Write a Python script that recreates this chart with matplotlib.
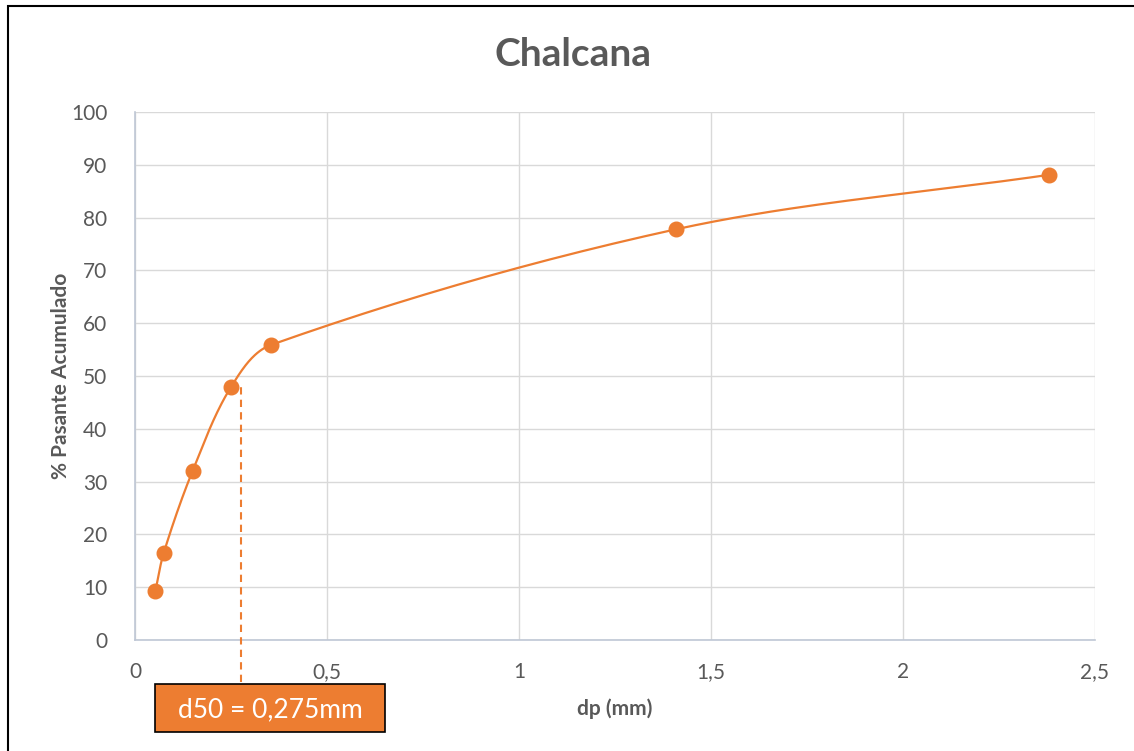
import numpy as np
import matplotlib.pyplot as plt
from matplotlib.patches import Rectangle

# tamices (mm) y % pasante acumulado
dp = [0.053, 0.075, 0.15, 0.25, 0.355, 1.41, 2.38]
pasante = [9.2, 16.5, 32.0, 47.9, 55.9, 77.8, 88.1]
d50 = 0.275

x_ticks = [0, 0.5, 1, 1.5, 2, 2.5]
x_labels = ['0', '0,5', '1', '1,5', '2', '2,5']
y_ticks = list(range(0, 101, 10))

naranja = '#ED7D31'
gris = '#595959'
plt.rcParams['font.family'] = ['Lato', 'DejaVu Sans']


def suavizar(x, y, sx, sy, n=40):
    # curva suavizada (bezier por tramos) en escala de pantalla,
    # con los puntos de control limitados al largo de cada tramo
    P = np.column_stack([np.asarray(x) / sx, np.asarray(y) / sy])
    m = len(P)
    tang = np.zeros_like(P)
    for i in range(m):
        a = P[max(i - 1, 0)]
        b = P[min(i + 1, m - 1)]
        d = b - a
        tang[i] = d / np.linalg.norm(d)
    out = []
    t = np.linspace(0, 1, n)[:, None]
    for i in range(m - 1):
        p1, p2 = P[i], P[i + 1]
        L = np.linalg.norm(p2 - p1) / 3
        c1 = p1 + tang[i] * L
        c2 = p2 - tang[i + 1] * L
        seg = ((1 - t) ** 3) * p1 + 3 * ((1 - t) ** 2) * t * c1 + 3 * (1 - t) * t ** 2 * c2 + t ** 3 * p2
        out.append(seg)
    c = np.vstack(out)
    return c[:, 0] * sx, c[:, 1] * sy


fig = plt.figure(figsize=(11.34, 7.51), dpi=100)
ax = fig.add_axes([0.119, 0.1478, 0.8466, 0.7031])

xs, ys = suavizar(dp, pasante, 2.5 / 960, 100 / 528)
ax.plot(xs, ys, color=naranja, lw=1.6, zorder=3)
ax.plot(dp, pasante, 'o', color=naranja, ms=10.5, zorder=4)

# linea del d50
ax.plot([d50, d50], [-8.0, 48.5], color=naranja, lw=1.5, ls=(0, (3.5, 2.5)),
        clip_on=False, zorder=3)

ax.set_xlim(0, 2.5)
ax.set_ylim(0, 100)
ax.set_xticks(x_ticks)
ax.set_xticklabels(x_labels)
ax.set_yticks(y_ticks)
ax.grid(True, color='#D9D9D9', lw=1)
ax.set_axisbelow(True)
ax.tick_params(axis='x', length=0, labelsize=15, colors=gris, pad=16)
ax.tick_params(axis='y', length=0, labelsize=15, colors=gris, pad=20)
for s in ['top', 'right']:
    ax.spines[s].set_visible(False)
for s in ['left', 'bottom']:
    ax.spines[s].set_color('#BFC7D5')
    ax.spines[s].set_linewidth(1.2)

ax.set_xlabel('dp (mm)', fontsize=15, fontweight='bold', color=gris, labelpad=12)
ax.set_ylabel('% Pasante Acumulado', fontsize=15, fontweight='bold', color=gris, labelpad=0)
fig.text(0.505, 0.927, 'Chalcana', ha='center', va='center', fontsize=28,
         fontweight='bold', color=gris)

# recuadro con el valor del d50
fig.patches.append(Rectangle((155 / 1134, 1 - 732 / 751), 230 / 1134, 48 / 751,
                             transform=fig.transFigure, facecolor=naranja,
                             edgecolor='black', lw=1.2))
fig.text(270 / 1134, 1 - 710 / 751, 'd50 = 0,275mm', ha='center', va='center',
         fontsize=19, color='white')

# marco del grafico
fig.patches.append(Rectangle((8 / 1134, -0.01), 1.05, 1 - 6 / 751 + 0.01,
                             transform=fig.transFigure, fill=False,
                             edgecolor='black', lw=1.5))

fig.savefig('out.png', dpi=100)
